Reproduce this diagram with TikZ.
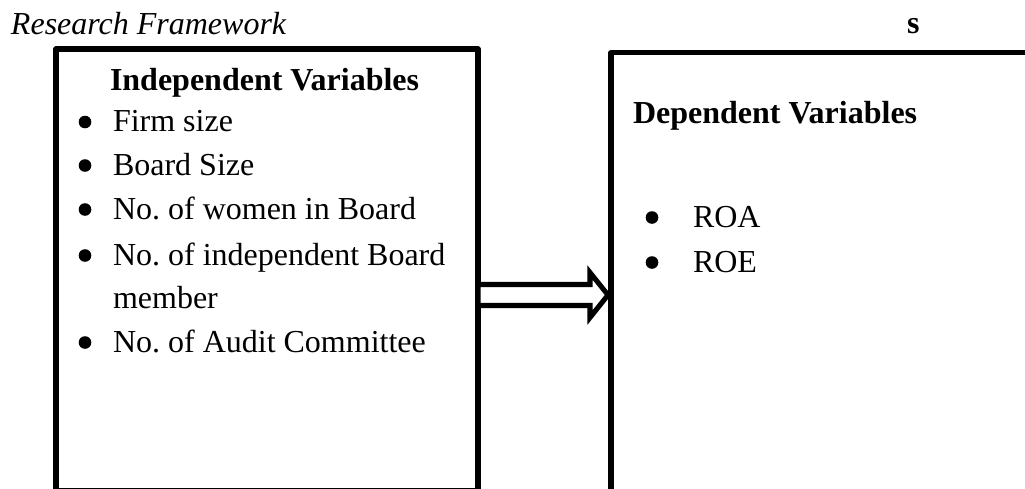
\documentclass[tikz,border=0pt]{standalone}
\usepackage{fontspec}
\setmainfont{Liberation Serif}
\frenchspacing
\usetikzlibrary{calc}
\tikzset{
  txt/.style={anchor=base west, inner sep=0pt, outer sep=0pt, font=\fontsize{24}{28.8}\selectfont},
  hdr/.style={txt, font=\fontsize{24}{28.8}\selectfont\bfseries},
  frame/.style={draw=black, line width=3.8pt, line join=round, fill=none, inner sep=0pt, outer sep=0pt},
  blockarrow/.style={draw=black, fill=white, line width=3.8pt, line join=miter},
  dot/.style={fill=black}
}
\begin{document}
\begin{tikzpicture}[x=0.75pt,y=-0.75pt]
\useasboundingbox (0,0) rectangle (1025,489);
\clip (0,0) rectangle (1025,489);
% boxes
\node[frame, minimum width=316.5pt, minimum height=331.5pt] (ind) at (267,270) {};
\node[frame, minimum width=375pt, minimum height=350pt] (dep) at (861,286) {};
% arrow
\coordinate (a1) at (ind.east |- 0,284.5);
\coordinate (a2) at (ind.east |- 0,305.5);
\coordinate (tip) at (dep.west |- 0,295);
\draw[blockarrow] (a1) -- (590,284.5) -- (590,272.5) -- ($(tip)+(-3,0)$) -- (590,317.5) -- (590,305.5) -- (a2) -- cycle;
% titles
\node[txt, font=\fontsize{24}{28.8}\selectfont\itshape] (title) at (11,34) {Research Framework};
\node[hdr] (s) at (907,33) {s};
\node[hdr] (indh) at (110,90) {Independent Variables};
\node[hdr] (deph) at (633,123) {Dependent Variables};
% left items
\node[txt] (i1) at (113,131.5) {Firm size};
\node[txt] (i2) at (113,175) {Board Size};
\node[txt] (i3) at (113,219) {No. of women in Board};
\node[txt] (i4) at (113,265) {No. of independent Board};
\node[txt] (i4b) at (113,308) {member};
\node[txt] (i5) at (113,352) {No. of Audit Committee};
\foreach \y in {131.5,175,219,265,352} \fill[dot] (85,\y-9.5) circle (6.3);
% right items
\node[txt] (d1) at (693,227) {ROA};
\node[txt] (d2) at (693,272) {ROE};
\foreach \y in {227,272} \fill[dot] (652,\y-9.5) circle (6.3);
\end{tikzpicture}
\end{document}
